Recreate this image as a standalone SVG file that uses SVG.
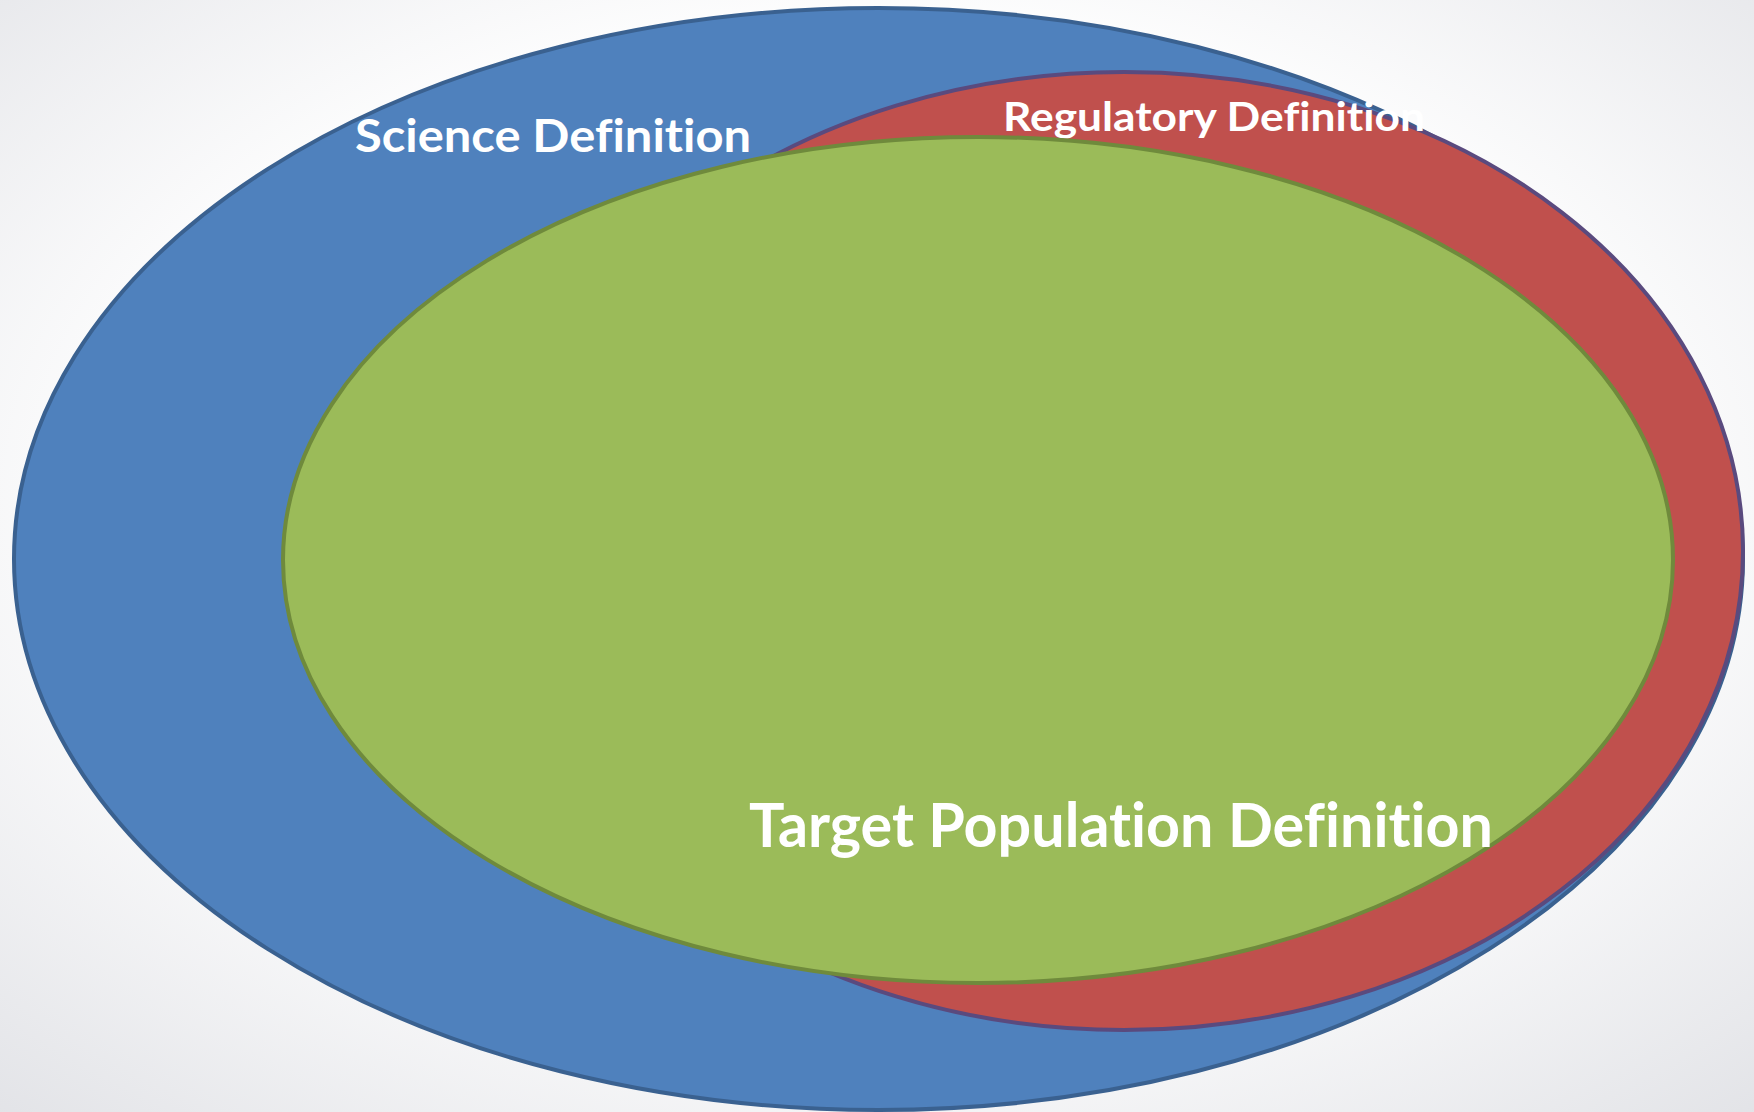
<svg xmlns="http://www.w3.org/2000/svg" width="1754" height="1112" viewBox="0 0 1754 1112">
  <defs>
    <radialGradient id="bg" cx="50%" cy="45%" r="75%">
      <stop offset="0" stop-color="#ffffff"/>
      <stop offset="0.55" stop-color="#ffffff"/>
      <stop offset="1" stop-color="#e2e3e7"/>
    </radialGradient>
    <style>
      .set { stroke-width: 4; }
      .science { fill: #4f81bd; stroke: #3a6190; }
      .regulatory { fill: #c0504d; stroke: #5a4a7e; }
      .target { fill: #9bbb59; stroke: #6f8a3c; }
      .label { font-family: Lato, "Open Sans", "Liberation Sans", sans-serif; font-weight: bold; fill: #ffffff; font-variant-ligatures: none; }
    </style>
  </defs>

  <rect x="0" y="0" width="1754" height="1112" fill="url(#bg)"/>

  <!-- Outer set -->
  <g id="science-definition">
    <ellipse class="set science" cx="878.5" cy="559" rx="864.5" ry="551"/>
    <text class="label" x="355" y="152" font-size="45" textLength="396" lengthAdjust="spacingAndGlyphs">Science Definition</text>
  </g>

  <!-- Middle set -->
  <g id="regulatory-definition">
    <ellipse class="set regulatory" cx="1124" cy="551" rx="619" ry="479"/>
    <text class="label" x="1003" y="131" font-size="41" textLength="422" lengthAdjust="spacingAndGlyphs">Regulatory Definition</text>
  </g>

  <!-- Inner set -->
  <g id="target-population-definition">
    <ellipse class="set target" cx="978" cy="560" rx="695" ry="423"/>
    <text class="label" x="749" y="847" font-size="61" textLength="744" lengthAdjust="spacingAndGlyphs">Target Population Definition</text>
  </g>
</svg>
